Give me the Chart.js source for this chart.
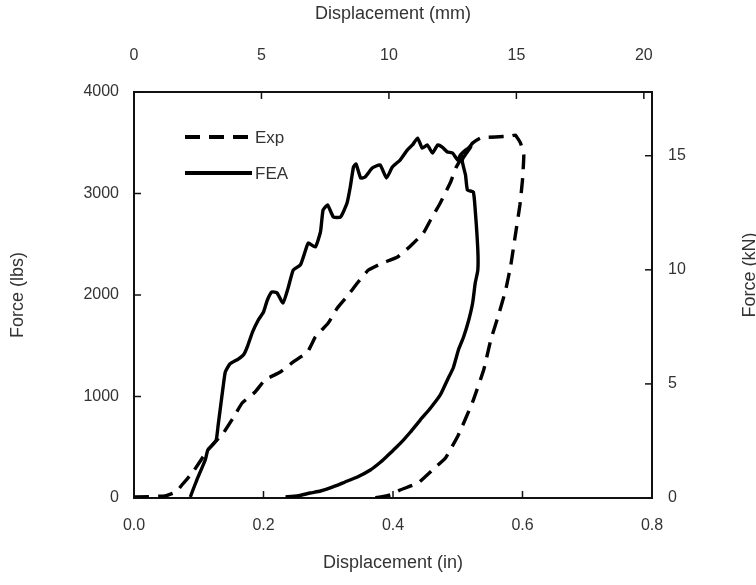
<!DOCTYPE html>
<html><head><meta charset="utf-8">
<script src="https://cdn.jsdelivr.net/npm/chart.js@4.4.1/dist/chart.umd.min.js"></script>
<style>html,body{margin:0;padding:0;background:#fff;} #wrap{width:756px;height:585px;position:relative;}</style>
</head><body><div id="wrap"><canvas id="c" width="756" height="585"></canvas></div>
<script>
// Experimental curve (Displacement in, Force lbs)
const expX = [0.000,0.048,0.065,0.074,0.091,0.114,0.138,0.153,0.167,0.187,0.202,0.226,0.246,0.268,0.280,0.300,0.314,0.331,0.345,0.362,0.384,0.407,0.427,0.447,0.458,0.473,0.489,0.497,0.509,0.523,0.535,0.558,0.582,0.589,0.597,0.602,0.600,0.596,0.589,0.582,0.574,0.563,0.551,0.540,0.523,0.501,0.481,0.461,0.439,0.411,0.396,0.381,0.368];
const expY = [10,20,60,128,256,473,640,788,936,1044,1163,1241,1340,1438,1586,1724,1872,2000,2118,2246,2315,2374,2483,2611,2739,2906,3113,3251,3379,3497,3547,3557,3566,3576,3497,3379,3133,2887,2591,2296,2049,1803,1557,1261,946,621,394,276,148,79,30,10,0];
// FEA curve (Displacement in, Force lbs)
const feaX = [0.087,0.091,0.097,0.110,0.114,0.121,0.127,0.130,0.133,0.138,0.141,0.148,0.161,0.170,0.176,0.183,0.192,0.200,0.206,0.213,0.221,0.230,0.238,0.246,0.257,0.265,0.269,0.280,0.288,0.292,0.299,0.308,0.319,0.329,0.334,0.339,0.343,0.350,0.357,0.368,0.380,0.390,0.399,0.411,0.422,0.430,0.438,0.445,0.453,0.461,0.469,0.476,0.484,0.492,0.500,0.504,0.512,0.520,
  0.507,0.512,0.515,0.524,0.527,0.531,0.531,0.527,0.523,0.517,0.509,0.501,0.493,0.484,0.473,0.458,0.442,0.427,0.416,0.404,0.391,0.381,0.365,0.345,0.326,0.303,0.288,0.272,0.252,0.234];
const feaY = [10,79,177,374,473,522,571,719,867,1113,1241,1320,1369,1419,1507,1635,1754,1832,1951,2030,2020,1921,2069,2246,2296,2443,2512,2473,2621,2837,2887,2768,2768,2906,3064,3261,3290,3153,3163,3251,3281,3153,3261,3330,3428,3478,3546,3448,3478,3399,3478,3458,3409,3399,3330,3379,3428,3458,
  3330,3182,3034,3015,2837,2443,2246,2118,1921,1754,1586,1458,1281,1163,1015,887,768,650,571,493,414,355,276,207,158,99,69,49,20,10];

const seriesNames = ['Exp', 'FEA'];
const axisTitles = { xIn: 'Displacement (in)', xMm: 'Displacement (mm)', yLbs: 'Force (lbs)', yKn: 'Force (kN)' };
const xInRange = [0, 0.8], xInStep = 0.2;
const yLbsRange = [0, 4000], yLbsStep = 1000;
const mmStep = 5, knStep = 5;
const IN_TO_MM = 25.4, LBS_TO_KN = 0.0044482216;

const toPts = (xs, ys) => xs.map((x, i) => ({ x, y: ys[i] }));
const TXT = '#333';
const FONT = 'Liberation Sans, Arial, sans-serif';
const tickFont = { family: FONT, size: 16 };
const titleFont = { family: FONT, size: 18 };

const fixedSize = { x: 87, xmm: 92, y: 134, ykn: 104 };
function fit(id) {
  return s => { if (s.isHorizontal()) s.height = fixedSize[id]; else s.width = fixedSize[id]; };
}

const inwardTicks = {
  id: 'inwardTicks',
  afterDraw(chart) {
    const { ctx, chartArea: a } = chart;
    const L = 7;
    ctx.save();
    ctx.strokeStyle = '#111'; ctx.lineWidth = 1.5;
    for (const id of ['x', 'xmm', 'y', 'ykn']) {
      const s = chart.scales[id];
      s.ticks.forEach(t => {
        const p = s.getPixelForValue(t.value);
        ctx.beginPath();
        if (id === 'x') { ctx.moveTo(p, a.bottom); ctx.lineTo(p, a.bottom - L); }
        else if (id === 'xmm') { ctx.moveTo(p, a.top); ctx.lineTo(p, a.top + L); }
        else if (id === 'y') { ctx.moveTo(a.left, p); ctx.lineTo(a.left + L, p); }
        else { ctx.moveTo(a.right, p); ctx.lineTo(a.right - L, p); }
        ctx.stroke();
      });
    }
    // right axis title (reads bottom to top, partly cut by the canvas edge as in the original)
    const r = chart.scales.ykn;
    ctx.fillStyle = TXT;
    ctx.font = titleFont.size + 'px ' + FONT;
    ctx.textAlign = 'center'; ctx.textBaseline = 'middle';
    ctx.translate(chart.width - 6, (r.top + r.bottom) / 2 - 20);
    ctx.rotate(-Math.PI / 2);
    ctx.fillText(axisTitles.yKn, 0, 0);
    ctx.restore();
  }
};

const innerLegend = {
  id: 'innerLegend',
  afterDraw(chart) {
    const { ctx, chartArea: a } = chart;
    ctx.save();
    chart.data.datasets.forEach((ds, i) => {
      const y = a.top + 45 + i * 36;
      ctx.beginPath();
      ctx.strokeStyle = ds.borderColor; ctx.lineWidth = 4;
      ctx.setLineDash(ds.borderDash || []);
      ctx.moveTo(a.left + 51, y); ctx.lineTo(a.left + 118, y);
      ctx.stroke();
      ctx.setLineDash([]);
      ctx.fillStyle = TXT;
      ctx.font = '17px ' + FONT;
      ctx.textAlign = 'left'; ctx.textBaseline = 'middle';
      ctx.fillText(ds.label, a.left + 121, y + 1);
    });
    ctx.restore();
  }
};

const borderOpt = { display: true, color: '#111', width: 2 };
const gridOpt = { display: true, drawOnChartArea: false, drawTicks: false };

new Chart(document.getElementById('c'), {
  type: 'scatter',
  data: {
    datasets: [
      { label: seriesNames[0], data: toPts(expX, expY), showLine: true, borderColor: '#000', borderWidth: 3.4, borderDash: [15, 9], pointRadius: 0, tension: 0.1, order: 1, xAxisID: 'x', yAxisID: 'y' },
      { label: seriesNames[1], data: toPts(feaX, feaY), showLine: true, borderColor: '#000', borderWidth: 3.4, pointRadius: 0, tension: 0.15, order: 0, xAxisID: 'x', yAxisID: 'y' }
    ]
  },
  options: {
    responsive: false, animation: false, devicePixelRatio: 1,
    layout: { padding: 0 },
    plugins: { legend: { display: false }, tooltip: { enabled: false } },
    scales: {
      x: { type: 'linear', position: 'bottom', min: xInRange[0], max: xInRange[1], afterFit: fit('x'),
        ticks: { stepSize: xInStep, callback: v => v.toFixed(1), padding: 18, font: tickFont, color: TXT, maxRotation: 0 },
        grid: gridOpt, border: borderOpt,
        title: { display: true, text: axisTitles.xIn, font: titleFont, color: TXT, padding: { top: 0, bottom: 11 } } },
      xmm: { type: 'linear', position: 'top', min: xInRange[0] * IN_TO_MM, max: xInRange[1] * IN_TO_MM, afterFit: fit('xmm'),
        ticks: { stepSize: mmStep, includeBounds: false, callback: v => String(v), padding: 27, font: tickFont, color: TXT, maxRotation: 0 },
        grid: gridOpt, border: borderOpt,
        title: { display: true, text: axisTitles.xMm, font: titleFont, color: TXT, padding: { top: 3, bottom: 0 } } },
      y: { type: 'linear', position: 'left', min: yLbsRange[0], max: yLbsRange[1], afterFit: fit('y'),
        ticks: { stepSize: yLbsStep, callback: v => String(v), padding: 15, font: tickFont, color: TXT },
        grid: gridOpt, border: borderOpt,
        title: { display: true, text: axisTitles.yLbs, font: titleFont, color: TXT, padding: { top: 7, bottom: 0 } } },
      ykn: { type: 'linear', position: 'right', min: yLbsRange[0] * LBS_TO_KN, max: yLbsRange[1] * LBS_TO_KN, afterFit: fit('ykn'),
        ticks: { stepSize: knStep, includeBounds: false, callback: v => String(v), padding: 16, font: tickFont, color: TXT },
        grid: gridOpt, border: borderOpt,
        title: { display: false } }
    }
  },
  plugins: [inwardTicks, innerLegend]
});
</script></body></html>
